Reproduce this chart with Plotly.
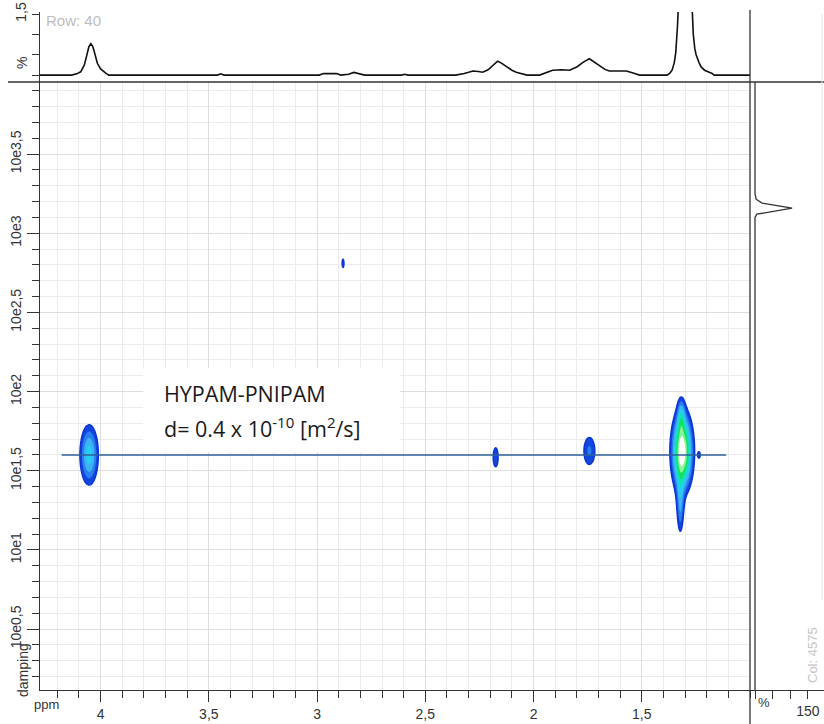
import numpy as np
import plotly.graph_objects as go

W, H = 824, 724

# ---------------- data ----------------
# 1D projection on top (ppm, intensity in %)
spec_ppm = [4.28, 4.135, 4.11, 4.092, 4.075, 4.069, 4.06, 4.054, 4.045, 4.036, 4.031, 4.022, 4.015, 4.0, 3.992,
            3.975, 3.962,
            3.46, 3.445, 3.43,
            2.99, 2.97, 2.94, 2.91, 2.89, 2.855, 2.83, 2.80, 2.78,
            2.61, 2.595, 2.58,
            2.36, 2.32, 2.28, 2.255, 2.235, 2.21, 2.185, 2.166, 2.15, 2.125, 2.10, 2.08, 2.05, 2.03,
            1.972, 1.94, 1.912, 1.87, 1.834, 1.80, 1.77, 1.742, 1.72, 1.696, 1.67, 1.65, 1.60, 1.571, 1.54, 1.51,
            1.383, 1.37, 1.36, 1.35, 1.343, 1.335, 1.327, 1.31, 1.295, 1.28, 1.27, 1.262, 1.255, 1.249, 1.235,
            1.226, 1.21, 1.189, 1.175, 1.166, 1.0]
spec_int = [0, 0, 0.03, 0.08, 0.25, 0.37, 0.58, 0.70, 0.77, 0.70, 0.61, 0.42, 0.29, 0.15, 0.11,
            0.04, 0,
            0, 0.03, 0,
            0, 0.04, 0.035, 0.04, 0.0, 0.02, 0.065, 0.02, 0,
            0, 0.02, 0,
            0, 0.04, 0.10, 0.09, 0.07, 0.13, 0.25, 0.34, 0.30, 0.20, 0.12, 0.07, 0.03, 0,
            0, 0.06, 0.12, 0.13, 0.12, 0.20, 0.32, 0.40, 0.32, 0.22, 0.14, 0.10, 0.10, 0.10, 0.05, 0,
            0, 0.05, 0.12, 0.3, 0.55, 1.2, 2.2, 3.0, 3.2, 3.0, 2.0, 1.0, 0.65, 0.5, 0.3,
            0.2, 0.12, 0.08, 0.04, 0, 0]

# projection on the right (log damping, intensity in %)
proj_logd = [3.955, 3.25, 3.215, 3.19, 3.158, 3.12, 3.10, 0.115]
proj_int = [0, 0, 3, 20, 105, 5, 0, 0]

# 2D DOSY cross peaks: position (ppm, log damping), widths, relative intensity
peak_ppm = [4.053, 2.175, 1.742, 1.313, 1.318, 1.322, 1.235, 2.88]
peak_logd = [1.60, 1.585, 1.625, 1.62, 1.85, 1.27, 1.60, 2.81]
peak_wppm = [0.03, 0.0128, 0.026, 0.032, 0.012, 0.012, 0.006, 0.005]
peak_wlogd = [0.134, 0.067, 0.088, 0.16, 0.08, 0.14, 0.02, 0.03]
peak_amp = [0.55, 0.30, 0.32, 1.0, 0.3, 0.35, 0.25, 0.3]

# fitted diffusion line
dline_ppm = [4.18, 1.11]
dline_logd = [1.6, 1.6]

# axis ticks
x_tickvals = [4, 3.5, 3, 2.5, 2, 1.5]
x_ticktext = ["4", "3,5", "3", "2,5", "2", "1,5"]
y_tickvals = [0.5, 1, 1.5, 2, 2.5, 3, 3.5]
y_ticktext = ["10e0,5", "10e1", "10e1,5", "10e2", "10e2,5", "10e3", "10e3,5"]
top_tickvals = [1.5]
top_ticktext = ["1,5"]
right_tickvals = [150]
right_ticktext = ["150"]

# ---------------- build surface ----------------
gx = np.linspace(1.0, 4.28, 900)
gy = np.linspace(0.115, 3.955, 500)
X, Y = np.meshgrid(gx, gy)
Z = np.zeros_like(X)
for p, d, wx, wy, a in zip(peak_ppm, peak_logd, peak_wppm, peak_wlogd, peak_amp):
    Z += a * np.exp(-((X - p) ** 2 / (2 * wx ** 2) + (Y - d) ** 2 / (2 * wy ** 2)))


def px(x):
    return x / W


def py(y):
    return (H - y) / H


XD = [px(40), px(750)]
YD_MAIN = [py(690), py(82)]
YD_TOP = [py(82), py(12)]
XD_RIGHT = [px(750), 1.0]

band_colors = ["#1246dc", "#2a7ef0", "#3cb4f4", "#20d2f0", "#10e4b0", "#14e05a", "#8cf49a", "#ffffff"]
nc = len(band_colors)
cscale = [[0, "rgba(255,255,255,0)"], [0.5 / nc, "rgba(255,255,255,0)"]]
for k, c in enumerate(band_colors):
    cscale.append([(k + 1) / nc, c])

fig = go.Figure()

fig.add_trace(go.Contour(
    x=gx, y=gy, z=Z, xaxis="x", yaxis="y",
    contours=dict(start=0.2, end=0.9, size=0.1, coloring="fill"),
    colorscale=cscale, showscale=False, line=dict(width=0), hoverinfo="skip",
))
fig.add_trace(go.Contour(
    x=gx, y=gy, z=Z, xaxis="x", yaxis="y",
    contours=dict(start=0.2, end=0.2, size=0.1, coloring="none"),
    showscale=False, line=dict(width=1.4, color="#0a34d4"), hoverinfo="skip",
))
fig.add_trace(go.Scatter(
    x=dline_ppm, y=dline_logd, mode="lines", xaxis="x", yaxis="y",
    line=dict(color="#2f5f9a", width=1.5), hoverinfo="skip",
))
fig.add_trace(go.Scatter(
    x=spec_ppm, y=spec_int, mode="lines", xaxis="x2", yaxis="y2",
    line=dict(color="#111111", width=1.6), hoverinfo="skip",
))
fig.add_trace(go.Scatter(
    x=proj_int, y=proj_logd, mode="lines", xaxis="x3", yaxis="y3",
    line=dict(color="#333333", width=1.3), hoverinfo="skip",
))

tickfont = dict(family="Liberation Sans", size=14, color="#333333")
axcol = "#333333"

fig.update_layout(
    width=W, height=H, margin=dict(l=0, r=0, t=0, b=0, autoexpand=False),
    paper_bgcolor="white", plot_bgcolor="white", showlegend=False,
    xaxis=dict(domain=XD, anchor="y", range=[4.28, 1.0], autorange=False,
               tickmode="array", tickvals=x_tickvals, ticktext=x_ticktext,
               ticks="outside", ticklen=11, tickcolor=axcol, tickwidth=1.2,
               showline=True, linecolor=axcol, linewidth=1.3,
               showgrid=True, gridcolor="#dedede", gridwidth=1, zeroline=False,
               tickfont=tickfont,
               minor=dict(tickmode="linear", tick0=0, dtick=0.1, ticks="outside", ticklen=7,
                          tickcolor=axcol, showgrid=True, gridcolor="#ececec")),
    yaxis=dict(domain=YD_MAIN, anchor="x", range=[0.115, 3.955], autorange=False,
               tickmode="array", tickvals=y_tickvals, ticktext=y_ticktext, tickangle=-90,
               ticks="outside", ticklen=12, tickcolor=axcol, tickwidth=1.2,
               showline=True, linecolor=axcol, linewidth=1.3,
               showgrid=True, gridcolor="#dedede", zeroline=False,
               tickfont=tickfont,
               minor=dict(tickmode="linear", tick0=0, dtick=0.1, ticks="outside", ticklen=7,
                          tickcolor=axcol, showgrid=True, gridcolor="#ececec")),
    xaxis2=dict(domain=XD, anchor="y2", range=[4.28, 1.0], autorange=False,
                showticklabels=False, showgrid=False, showline=False, zeroline=False, ticks=""),
    yaxis2=dict(domain=YD_TOP, anchor="x2", range=[-0.17, 1.55], autorange=False,
                tickmode="array", tickvals=top_tickvals, ticktext=top_ticktext, tickangle=-90,
                ticks="outside", ticklen=7, tickcolor=axcol, tickwidth=1.2,
                showline=True, linecolor=axcol, linewidth=1.3,
                showgrid=False, zeroline=False, tickfont=tickfont,
                minor=dict(tickmode="linear", tick0=0, dtick=0.5, ticks="outside", ticklen=7,
                           tickcolor=axcol, showgrid=False)),
    xaxis3=dict(domain=XD_RIGHT, anchor="y3", range=[-14.2, 195.4], autorange=False,
                tickmode="array", tickvals=right_tickvals, ticktext=right_ticktext,
                ticks="outside", ticklen=8, tickcolor=axcol, tickwidth=1.2,
                showline=True, linecolor=axcol, linewidth=1.3,
                showgrid=False, zeroline=False, tickfont=tickfont,
                minor=dict(tickmode="linear", tick0=0, dtick=50, ticks="outside", ticklen=8,
                           tickcolor=axcol, showgrid=False)),
    yaxis3=dict(domain=YD_MAIN, anchor="x3", range=[0.115, 3.955], autorange=False,
                showticklabels=False, showgrid=False, showline=False, zeroline=False, ticks=""),
)

shapes = [
    dict(type="line", xref="paper", yref="paper", x0=px(8), x1=1.0, y0=py(82), y1=py(82),
         line=dict(color=axcol, width=1.3)),
    dict(type="line", xref="paper", yref="paper", x0=px(750), x1=px(750), y0=0, y1=py(10),
         line=dict(color=axcol, width=1.3)),
    dict(type="line", xref="paper", yref="paper", x0=px(822), x1=px(822), y0=py(600), y1=py(14),
         line=dict(color="#e4e4e4", width=1)),
    dict(type="rect", xref="paper", yref="paper", x0=px(143), x1=px(400), y0=py(452), y1=py(368),
         fillcolor="white", line=dict(width=0), layer="above"),
]
fig.update_layout(shapes=shapes)

ann = [
    dict(text="Row: 40", x=px(44), y=py(20), xanchor="left", yanchor="middle",
         font=dict(family="Liberation Sans", size=15, color="#bdbdbd")),
    dict(text="%", x=px(22), y=py(63), textangle=-90, xanchor="center", yanchor="middle",
         font=dict(family="Liberation Sans", size=14, color="#333333")),
    dict(text="damping", x=px(23), y=py(670), textangle=-90, xanchor="center", yanchor="middle",
         font=dict(family="Liberation Sans", size=14, color="#333333")),
    dict(text="ppm", x=px(46), y=py(704), xanchor="center", yanchor="middle",
         font=dict(family="Liberation Sans", size=13, color="#333333")),
    dict(text="%", x=px(764), y=py(702), xanchor="center", yanchor="middle",
         font=dict(family="Liberation Sans", size=13, color="#333333")),
    dict(text="Col: 4575", x=px(812), y=py(655), textangle=-90, xanchor="center", yanchor="middle",
         font=dict(family="Liberation Sans", size=13, color="#c4c4c4")),
    dict(text="HYPAM-PNIPAM", x=px(162), y=py(393), xanchor="left", yanchor="middle",
         font=dict(family="Open Sans", size=21.5, color="#1a1a1a")),
    dict(text="d= 0.4 x 10<sup>-10</sup> [m<sup>2</sup>/s]", x=px(162), y=py(427),
         xanchor="left", yanchor="middle",
         font=dict(family="Open Sans", size=21.5, color="#1a1a1a")),
]
for a in ann:
    a.update(xref="paper", yref="paper", showarrow=False)
fig.update_layout(annotations=ann)

fig.write_html(
    "out.html",
    config={"displayModeBar": False},
    post_script=("document.body.style.margin='0';document.body.style.overflow='hidden';"
                 "var gd=document.getElementById('{plot_id}');"
                 "gd.style.position='fixed';gd.style.top='0px';gd.style.left='0px';"),
)
